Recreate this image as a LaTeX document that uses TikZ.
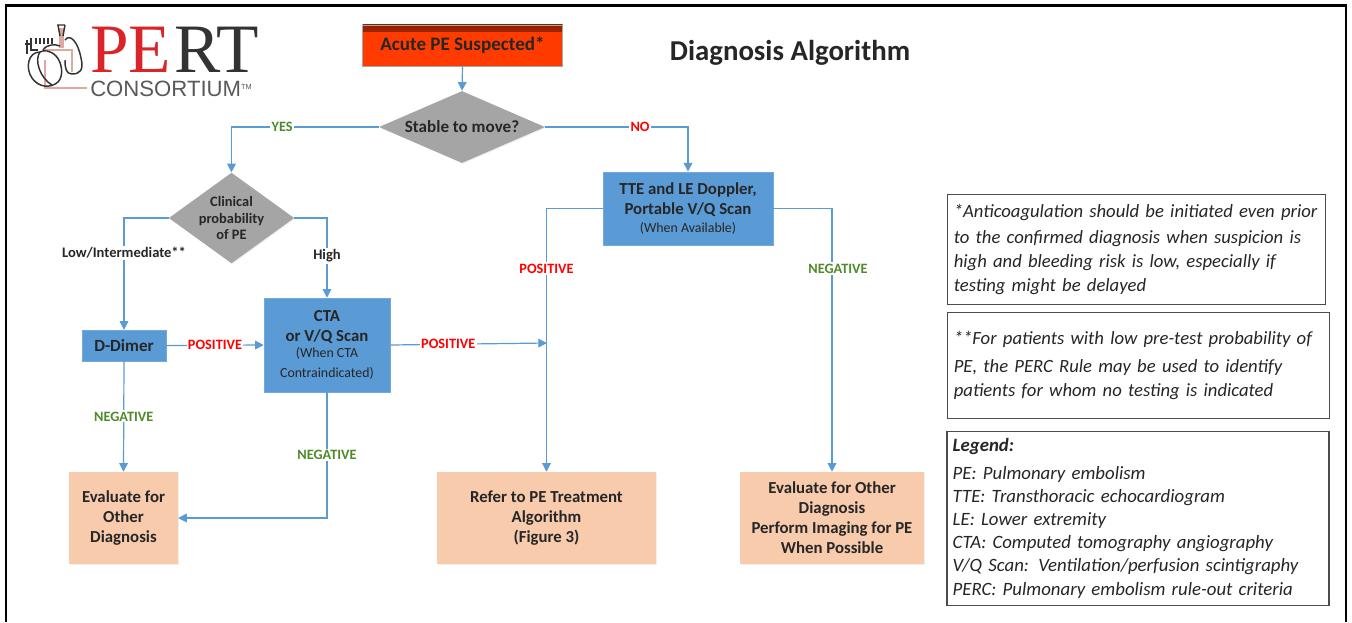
\documentclass[tikz,border=0pt]{standalone}
\usepackage{fontspec}
\setmainfont{Carlito}
\newfontfamily\logoserif{Liberation Serif}
\newfontfamily\logosans{Liberation Sans}
\usetikzlibrary{arrows.meta,shapes.geometric,calc,shadows}
\definecolor{wireblue}{HTML}{5B9BD5}
\definecolor{boxblue}{HTML}{5B9BD5}
\definecolor{diagray}{HTML}{A5A5A5}
\definecolor{peach}{HTML}{F8CBAD}
\definecolor{alarm}{HTML}{FF3B00}
\definecolor{okgreen}{HTML}{4F8A2A}
\definecolor{logored}{HTML}{D9252A}
\definecolor{logopink}{HTML}{DDA9A5}
\tikzset{
  x=0.75pt,y=-0.75pt,
  softshadow/.style={drop shadow={shadow xshift=0.7pt,shadow yshift=-0.7pt,fill=black!12,opacity=0.5}},
  boxbase/.style={rectangle,inner sep=0pt,align=center,font=\bfseries\fontsize{12.6}{15}\selectfont,text=black!85},
  bluebox/.style={boxbase,fill=boxblue,draw=boxblue!85!white,softshadow},
  peachbox/.style={boxbase,fill=peach,softshadow},
  decide/.style={diamond,aspect=2,inner sep=0pt,fill=diagray,align=center,text=black!85,softshadow},
  notebox/.style={rectangle,draw=black!70,line width=0.8pt,inner sep=0pt,align=left,font=\itshape\fontsize{14}{17.8}\selectfont,text=black!85},
  wire/.style={draw=wireblue,line width=0.9pt,-{Triangle[length=6.5pt,width=6.5pt]}},
  lab/.style={fill=white,inner sep=1pt,font=\bfseries\fontsize{10.7}{12}\selectfont},
  poslab/.style={lab,text=red},
  neglab/.style={lab,text=okgreen},
  blacklab/.style={lab,text=black!85,font=\bfseries\fontsize{10.9}{12}\selectfont},
  logotext/.style={anchor=base west,inner sep=0pt,text depth=0pt},
}
\newcommand{\smalltxt}[1]{{\mdseries\fontsize{10.4}{14}\selectfont #1}}
\begin{document}
\begin{tikzpicture}
\useasboundingbox (0,0) rectangle (1352,622);
\fill[white] (0,0) rectangle (1352,622);
% frame
\draw[black,line width=1.6pt] (6,622) -- (6,5.5) -- (1346,5.5) -- (1346,622);

% logo
\begin{scope}[line width=1.1pt,draw=black!80]
  \draw[logopink,line width=1.2pt] (45,60) -- (45,88) -- (87,88);
  \draw[logopink,line width=1.2pt] (45,50) -- (72,50) -- (72,72);
  \fill[logopink] (59,28) rectangle (64,48);
  \draw (57,25) -- (65,25) (58,25) -- (60,36) (65,25) -- (63,36);
  \draw (43,50) .. controls (47,44) and (55,44) .. (60,46);
  \draw (65,40) .. controls (70,33) and (78,42) .. (81,58) .. controls (84,70) and (80,74) .. (72,74) .. controls (66,74) and (65,68) .. (65,60);
  \draw (40,52) .. controls (28,52) and (25,68) .. (32,78) .. controls (38,87) and (50,89) .. (58,82) .. controls (64,76) and (62,62) .. (56,56) .. controls (50,50) and (44,50) .. (40,52);
  \draw (40,52) .. controls (34,60) and (40,78) .. (52,85);
  \draw (27,40) -- (27,54) (31,38) -- (31,50) -- (38,50) (36,38) -- (36,44) (40,38) -- (40,44) (44,38) -- (44,44) (48,38) -- (48,44) (52,38) -- (52,44) (25,44) -- (31,44);
\end{scope}
\node[logotext,font=\logoserif\fontsize{52}{52}\selectfont,text=logored] (logoPE) at (90,72) {PE};
\node[logotext,font=\logoserif\fontsize{52}{52}\selectfont,text=black!80] (logoRT) at (174,72) {RT};
\node[logotext,font=\logosans\fontsize{16.6}{17}\selectfont,text=black!65] (logoC) at (90,96.5) {CONSORTIUM\raisebox{5pt}{\fontsize{5.5}{5.5}\selectfont TM}};

% title
\node[font=\bfseries\fontsize{21.6}{24}\selectfont,text=black!85] (title) at (790,53) {Diagnosis Algorithm};

% main nodes
\node[boxbase,minimum width=150pt,minimum height=31pt,fill=alarm,draw=black!35,font=\bfseries\fontsize{14.3}{16}\selectfont,
  path picture={\shade[top color=alarm!55!black,bottom color=alarm] (path picture bounding box.north west) rectangle ([yshift=-5pt]path picture bounding box.north east);}] (acute) at (462.5,45.5) {Acute PE Suspected*};
\node[decide,minimum width=124.5pt,minimum height=54pt,font=\bfseries\fontsize{12.8}{15}\selectfont] (stable) at (462,127) {};
\node[font=\bfseries\fontsize{12.8}{15}\selectfont,text=black!85] (stabletext) at (462,127) {Stable to move?};
\node[decide,minimum width=94pt,minimum height=68pt] (clin) at (231.5,218) {};
\node[font=\bfseries\fontsize{10.8}{13}\selectfont,align=center,text=black!85] (clintext) at (231.5,218) {Clinical\\[-0.5pt]probability\\[-0.5pt]of PE};
\node[bluebox,minimum width=127.5pt,minimum height=55pt] (tte) at (688,208.5) {TTE and LE Doppler,\\Portable V/Q Scan\\[-2pt]\smalltxt{(When Available)}};
\node[bluebox,minimum width=94.5pt,minimum height=70.5pt] (cta) at (327,345) {CTA\\[0pt]or V/Q Scan\\[-3pt]\smalltxt{(When CTA}\\[0pt]\smalltxt{Contraindicated)}};
\node[bluebox,minimum width=63pt,minimum height=23pt,font=\bfseries\fontsize{12.8}{15}\selectfont] (dd) at (124,345.5) {D-Dimer};
\node[peachbox,minimum width=81.5pt,minimum height=69pt] (eval1) at (123.5,518) {Evaluate for\\Other\\Diagnosis};
\node[peachbox,minimum width=164pt,minimum height=69pt] (refer) at (546.5,518) {Refer to PE Treatment\\Algorithm\\(Figure 3)};
\node[peachbox,minimum width=138pt,minimum height=69pt] (eval2) at (832,518) {Evaluate for Other\\Diagnosis\\Perform Imaging for PE\\When Possible};

% side notes
\node[notebox,minimum width=284pt,minimum height=82pt,text width=274pt] (n1) at (1136.5,249.5) {\vspace*{1.5pt}*Anticoagulation should be initiated even prior\\to the confirmed diagnosis when suspicion is\\high and bleeding risk is low, especially if\\testing might be delayed};
\node[notebox,minimum width=287pt,minimum height=79pt,text width=277pt] (n2) at (1138.5,365.5) {\vspace*{3.5pt}**For patients with low pre-test probability of\\PE, the PERC Rule may be used to identify\\patients for whom no testing is indicated};
\node[notebox,minimum width=286.5pt,minimum height=130pt,text width=278pt,font=\itshape\fontsize{14.1}{17.4}\selectfont] (n3) at (1138,518.5) {\vspace*{3pt}\textbf{Legend:}\\PE: Pulmonary embolism\\TTE: Transthoracic echocardiogram\\LE: Lower extremity\\CTA: Computed tomography angiography\\V/Q Scan: Ventilation/perfusion scintigraphy\\PERC: Pulmonary embolism rule-out criteria};

% junction
\coordinate (join) at (547,343);

% connectors
\draw[wire] (acute.south) -- (stable.north);
\draw[wire] (stable.west) -| node[neglab,pos=0.328] {YES} (clin.north);
\draw[wire] (stable.east) -| node[poslab,pos=0.332] {NO} (tte.north);
\draw[wire] (clin.west) -| node[blacklab,pos=0.656] {Low/Intermediate**} (dd.north);
\draw[wire] (clin.east) -| node[blacklab,pos=0.7375] {High} (cta.north);
\draw[wire] (dd.east) -- node[poslab,pos=0.5] {POSITIVE} (cta.west);
\draw[wire] (dd.south) -- node[neglab,pos=0.5] {NEGATIVE} (eval1.north);
\draw[wire] (cta.south) |- node[neglab,pos=0.25] {NEGATIVE} (eval1.east);
\draw[wire] (cta.east) -- node[poslab,pos=0.37] {POSITIVE} (join);
\draw[wire] (tte.west) -| node[poslab,pos=0.614] {POSITIVE} (refer.north);
\draw[wire] (tte.east) -| node[neglab,pos=0.614,xshift=4.5pt] {NEGATIVE} (eval2.north);
\end{tikzpicture}
\end{document}
